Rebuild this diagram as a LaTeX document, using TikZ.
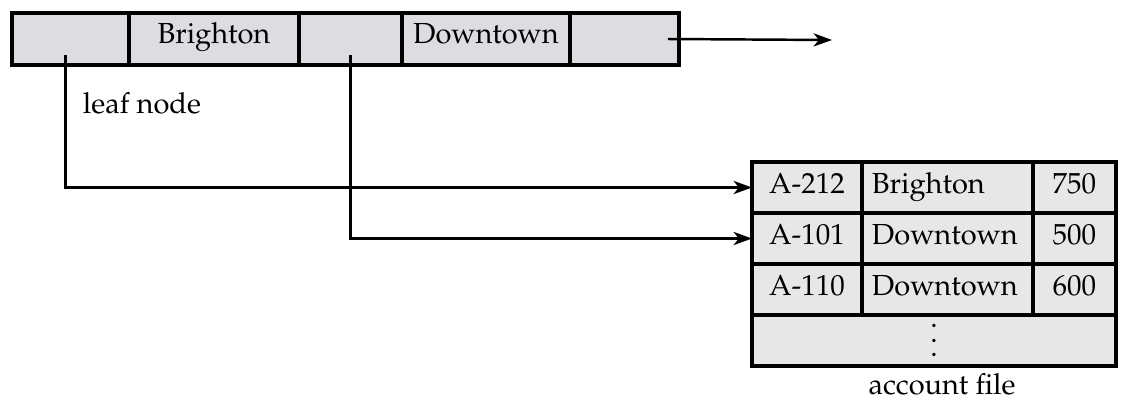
\documentclass[tikz,border=0pt]{standalone}
\usepackage[T1]{fontenc}
\usepackage{mathpazo}
\usepackage{tikz}
\usetikzlibrary{arrows.meta,calc,positioning}
\definecolor{leafgray}{RGB}{221,220,224}
\definecolor{filegray}{RGB}{231,231,231}
\newcommand{\figfont}{\fontsize{16.5}{20}\selectfont}
\newcommand{\tabledots}{\vbox{\baselineskip=8.2pt\lineskiplimit=0pt\hbox{.}\hbox{.}\hbox{.}}}
\tikzset{
  cell/.style={draw, line width=1.9pt, fill=leafgray, minimum height=1.04cm,
    inner sep=0pt, outer sep=0pt, font=\figfont, text height=0.69em, text depth=0.2em},
  rec/.style={cell, fill=filegray, minimum height=1.02cm, text depth=0pt},
  ptr/.style={-{Stealth[length=10.5pt,width=7.5pt,inset=3pt]}, line width=1.4pt},
  lbl/.style={font=\figfont},
}

\begin{document}
\begin{tikzpicture}[x=0.02cm, y=-0.02cm]
  \useasboundingbox (0,0) rectangle (1126,417);
  % Leaf node
  \node[cell, minimum width=2.34cm] (p1) at (70.5,39) {};
  \node[cell, minimum width=3.4cm, right=0pt of p1] (k1) {Brighton};
  \node[cell, minimum width=2.06cm, right=0pt of k1] (p2) {};
  \node[cell, minimum width=3.36cm, right=0pt of p2] (k2) {Downtown};
  \node[cell, minimum width=2.18cm, right=0pt of k2] (pn) {};
  \node[lbl] (leaflbl) at (142,103) {leaf node};
  % Account file
  \foreach \acc/\br/\bal [count=\i] in {A-212/Brighton/750, A-101/Downtown/500, A-110/Downtown/600} {
    \node[rec, minimum width=2.2cm] (a\i) at (807,{136.5+51*\i}) {\acc};
    \node[rec, minimum width=3.42cm, text width=3.02cm, inner xsep=0.2cm, align=left,
      right=0pt of a\i] (b\i) {\br};
    \node[rec, minimum width=1.66cm, right=0pt of b\i] (c\i) {\bal};
  }
  \node[rec, minimum width=7.28cm, text height=, text depth=, below=0pt of b3.south west,
    anchor=north west, xshift=-2.2cm] (more) {\tabledots};
  \node[lbl] (filelbl) at (942,384) {account file};
  % Pointers
  \coordinate (nxt) at (832,40);
  \draw[ptr] ($(p1.center)+(-5,16)$) |- (a1.west);
  \draw[ptr] ($(p2.center)+(0,16)$) |- (a2.west);
  \draw[ptr] ($(pn.east)+(-11,0)$) -- (nxt);
\end{tikzpicture}
\end{document}
